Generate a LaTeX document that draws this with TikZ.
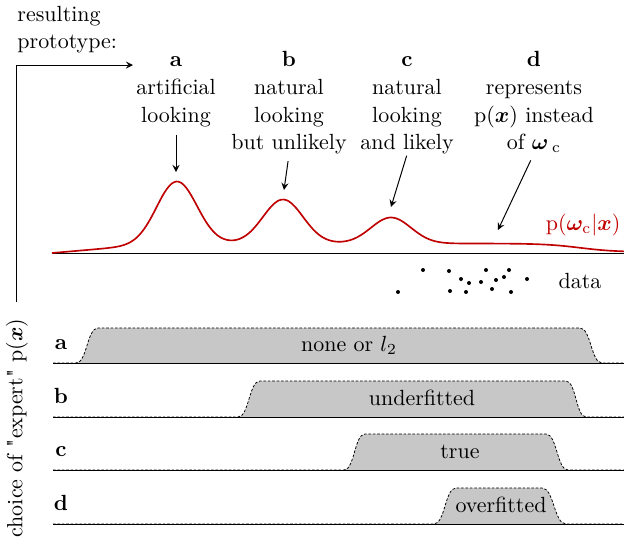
\documentclass[tikz,border=0pt]{standalone}
\usepackage{amsmath}
\usepackage{amssymb}
\usepackage{bm}
\usepackage{tikz}
\usetikzlibrary{positioning}

\definecolor{densred}{RGB}{192,0,0}

% one row of the lower panel: name, base y, top y, rise start, top start, top end, fall end, text, text x
\newcommand{\expertband}[9]{%
  \coordinate (#1-w) at (53,#2);
  \coordinate (#1-e) at (624,#2);
  \path[band] (#1-w) -- (#4,#2) .. controls ({0.5*(#4+#5)},#2) and ({0.5*(#4+#5)},#3) .. (#5,#3)
    -- (#6,#3) .. controls ({0.5*(#6+#7)},#3) and ({0.5*(#6+#7)},#2) .. (#7,#2) -- (#1-e);
  \draw[baseline] (#1-w) -- (#1-e);
  \node[letter] (#1-tag) at (61,{#2-14}) {#1};
  \node[anchor=base] (#1-fit) at (#9,{#2-12}) {#8};
}

\begin{document}
\begin{tikzpicture}[
    x=0.016cm, y=-0.016cm,
    toplabel/.style={align=center, anchor=north, inner sep=0pt, font=\linespread{1.05}\selectfont},
    pointer/.style={-stealth, line width=0.45pt},
    band/.style={fill=black!22, draw, line width=0.35pt, dash pattern=on 1.2pt off 0.8pt},
    baseline/.style={line width=0.45pt},
    letter/.style={font=\bfseries, anchor=base},
    density/.style={densred, line width=0.75pt},
    declare function={
      g(\x,\m)=exp(max(-0.5*((\x-\m)/20)^2,-12));
      bg(\x)=9.5*min((\x-52)/110,1)*(1-0.9/(1+exp(min(-(\x-580)/18,9))));
      dens(\x)=bg(\x)+62*g(\x,177)+44*g(\x,283)+26*g(\x,391);
    }
    ]
    \useasboundingbox (0,0) rectangle (624,541);

    % axes
    \node[align=left, anchor=north west, inner sep=0pt] (proto) at (17,6) {resulting\\prototype:};
    \coordinate (origin) at (16,302);
    \coordinate (axis-tip) at (133,65);
    \draw[pointer] (origin) |- (axis-tip);
    \node[rotate=90] (expert) at (17,428) {choice of \textquotedbl expert\textquotedbl{} p($\bm{x}$)};

    % upper panel: the density and the prototypes
    \coordinate (curve-w) at (52,253);
    \coordinate (curve-e) at (624,253);
    \draw[baseline] (curve-w) -- (curve-e);
    \draw[density] plot[domain=52:624, samples=240] (\x,{253-dens(\x)});
    \node[densred, anchor=base east, inner sep=1pt] (pwx) at (623,230) {p($\bm{\omega}_\mathrm{c}|\bm{x}$)};

    \node[toplabel] (la) at (176,51) {\textbf{a}\vphantom{b}\\artificial\\looking};
    \node[toplabel] (lb) at (289,51) {\textbf{b}\\natural\\looking\\but unlikely};
    \node[toplabel] (lc) at (407,51) {\textbf{c}\vphantom{b}\\natural\\looking\\and likely};
    \node[toplabel] (ld) at (534,51) {\textbf{d}\\represents\\p($\bm{x}$) instead\\of $\bm{\omega}\,{}_\mathrm{c}$};

    \coordinate (pa) at (176,172);
    \coordinate (pb) at (284,190);
    \coordinate (pc) at (391,207);
    \coordinate (pd) at (498,230);
    \draw[pointer, shorten <=3.5pt] (la.south) -- (pa);
    \draw[pointer, shorten <=3pt] (lb.south) -- (pb);
    \draw[pointer, shorten <=0.5pt] (lc.south) -- (pc);
    \draw[pointer, shorten <=3.5pt] (ld.south) -- (pd);

    % data points
    \foreach \dx/\dy in {398/292, 423/270, 449/271, 461/279, 469/283, 450/291, 466/292, 481/282,
                         486/270, 492/289, 496/280, 504/277, 509/270, 511/292, 527/279}
      \fill (\dx,\dy) circle (2);
    \node[anchor=base] (data) at (580,288) {data};

    % lower panel
    \expertband{a}{363}{328}{76}{98}{580}{602}{none or $l_2$}{349}
    \expertband{b}{417}{381}{238}{260}{566}{586}{underfitted}{422}
    \expertband{c}{470}{434}{344}{365}{546}{568}{true}{460}
    \expertband{d}{524}{488}{434}{456}{542}{566}{overfitted}{501}

  \end{tikzpicture}
\end{document}
